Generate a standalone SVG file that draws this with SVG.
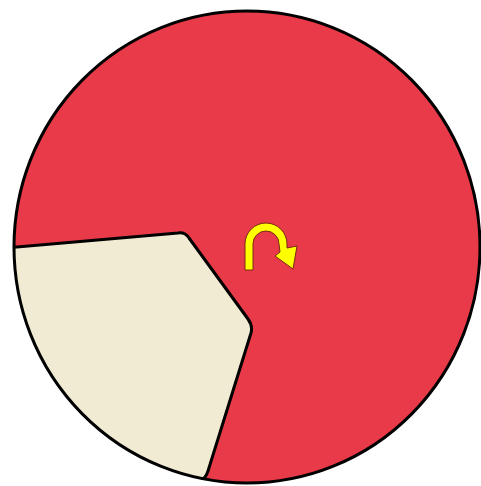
<svg xmlns="http://www.w3.org/2000/svg" width="481" height="486" viewBox="0 0 481 486">
<style>
.edge{stroke:#000;stroke-width:3;stroke-linejoin:round;fill:none}
</style>
<defs>
<clipPath id="disc"><ellipse cx="247" cy="247" rx="233" ry="236"/></clipPath>
</defs>
<g id="pie">
<ellipse cx="247" cy="247" rx="233" ry="236" fill="#E83A48"/>
<g clip-path="url(#disc)">
<path d="M0 248.4 L178 233 Q185 232 189 238 L248 319 Q253 326 251 333 L208 471 Q206 477 203 479 L203 490 L0 490 Z" fill="#F2EBD3"/>
<path class="edge" d="M0 248.4 L178 233 Q185 232 189 238 L248 319 Q253 326 251 333 L208 471 Q206 477 203 479 L200 490"/>
</g>
<ellipse class="edge" cx="247" cy="247" rx="233" ry="236"/>
</g>
<g id="arrow">
<path d="M245 270 L245 244 A21 21 0 0 1 287 244 L287 248 L297 246 L293 269 L275 256 L280 252 L279 244 A13 13 0 0 0 253 244 L253 270 Z" fill="#FFFF00" stroke="#7A2A10" stroke-width="1" stroke-linejoin="round"/>
</g>
</svg>
